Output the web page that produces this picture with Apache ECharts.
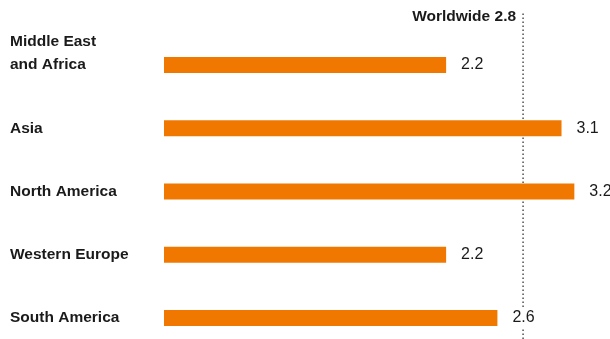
<!DOCTYPE html>
<html>
<head>
<meta charset="utf-8">
<script src="https://cdn.jsdelivr.net/npm/echarts@6/dist/echarts.min.js"></script>
<style>
  html, body { margin: 0; padding: 0; background: #fff; }
  #chart { width: 610px; height: 339px; }
</style>
</head>
<body>
<div id="chart"></div>
<script>
// data
const regions = ['Middle East\nand Africa', 'Asia', 'North America', 'Western Europe', 'South America']
const values = [2.2, 3.1, 3.2, 2.2, 2.6]
const worldwide = 2.8

const font = 'Liberation Sans, Arial, Helvetica, sans-serif'
const textColor = '#1a1a1a'

const option = {
  backgroundColor: '#fff',
  animation: false,
  grid: [
    { left: 164, right: 10, top: 65, bottom: 21 },
    { left: 164, right: 10, top: 12, bottom: 0 },
  ],
  xAxis: [
    { gridIndex: 0, type: 'value', min: 0, max: 3.4, show: false },
    { gridIndex: 1, type: 'value', min: 0, max: 3.4, show: false },
  ],
  yAxis: [
    {
      gridIndex: 0,
      type: 'category',
      inverse: true,
      boundaryGap: false,
      data: regions,
      axisLine: { show: false },
      axisTick: { show: false },
      axisLabel: {
        margin: 154,
        align: 'left',
        verticalAlign: 'middle',
        lineHeight: 23,
        padding: [0, 0, 14, 0],
        fontFamily: font,
        fontWeight: 'bold',
        fontSize: 15.5,
        color: textColor,
        // keep the last line of a two-line label level with the bar
        formatter: (v) => (v.indexOf('\n') >= 0 ? v + '\n ' : v),
      },
    },
    { gridIndex: 1, type: 'value', min: 0, max: 1, show: false },
  ],
  series: [
    {
      // worldwide reference line
      type: 'line',
      xAxisIndex: 1,
      yAxisIndex: 1,
      data: [[worldwide, 0], [worldwide, 1]],
      symbol: 'none',
      lineStyle: { color: '#222', width: 1.2, type: [1.5, 2.5] },
      z: 1,
      silent: true,
    },
    {
      type: 'scatter',
      xAxisIndex: 1,
      yAxisIndex: 1,
      data: [[worldwide, 1]],
      symbolSize: 0,
      itemStyle: { opacity: 1 },
      label: {
        show: true,
        position: 'left',
        distance: 7,
        offset: [0, 5],
        formatter: 'Worldwide ' + worldwide,
        fontFamily: font,
        fontSize: 15.5,
        fontWeight: 'bold',
        color: textColor,
      },
      z: 2,
      silent: true,
    },
    {
      type: 'bar',
      xAxisIndex: 0,
      yAxisIndex: 0,
      data: values,
      barWidth: 16,
      itemStyle: { color: '#f07800' },
      label: {
        show: true,
        position: 'right',
        distance: 12,
        fontFamily: font,
        fontSize: 16,
        color: textColor,
        backgroundColor: '#fff',
        padding: [3, 3],
      },
      z: 3,
      silent: true,
    },
  ],
}

const chartObj = echarts.init(document.getElementById('chart'))
chartObj.setOption(option)
</script>
</body>
</html>
